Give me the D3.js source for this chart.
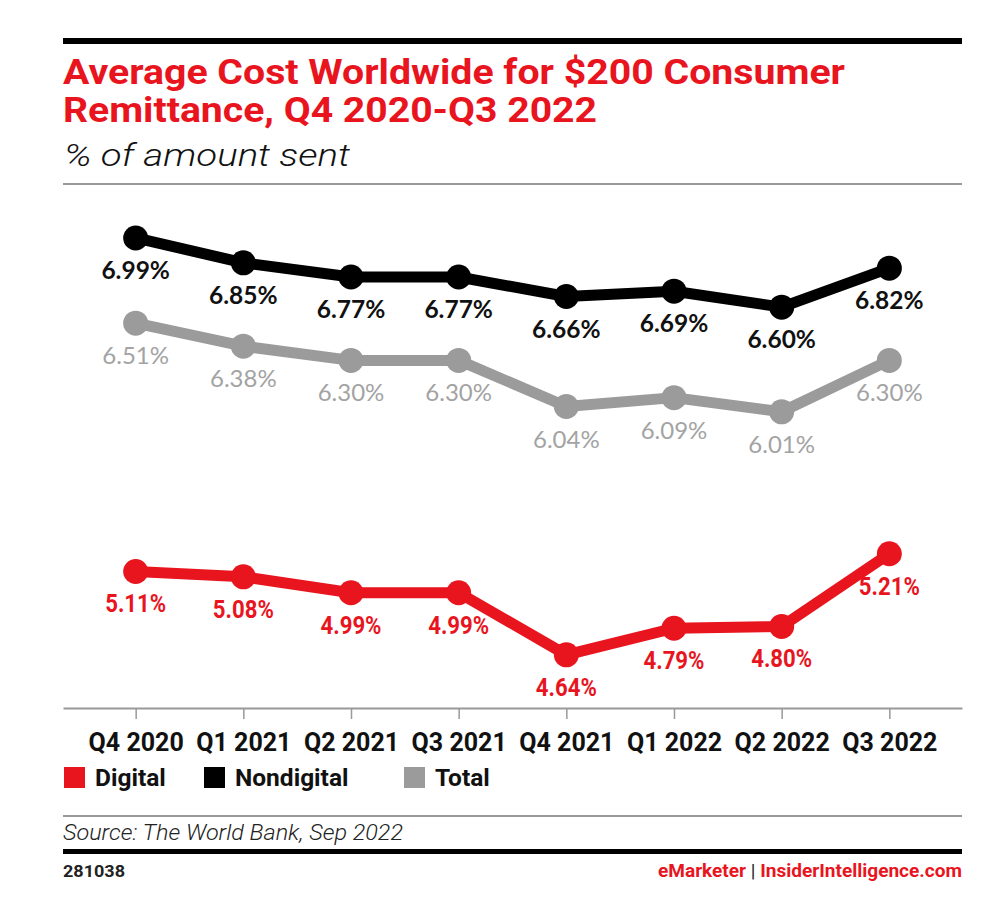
<!DOCTYPE html>
<html>
<head>
<meta charset="utf-8">
<script src="https://cdn.jsdelivr.net/npm/d3@7"></script>
<style>
  html, body { margin: 0; padding: 0; background: #ffffff; }
  svg { display: block; }
</style>
</head>
<body>
<svg id="chart" width="996" height="920"></svg>
<script>
// ---- data ----
const categories = ["Q4 2020", "Q1 2021", "Q2 2021", "Q3 2021", "Q4 2021", "Q1 2022", "Q2 2022", "Q3 2022"];
const digital    = [5.11, 5.08, 4.99, 4.99, 4.64, 4.79, 4.80, 5.21];
const nondigital = [6.99, 6.85, 6.77, 6.77, 6.66, 6.69, 6.60, 6.82];
const total      = [6.51, 6.38, 6.30, 6.30, 6.04, 6.09, 6.01, 6.30];
const seriesNames = ["Digital", "Nondigital", "Total"];
const titleLines = ["Average Cost Worldwide for $200 Consumer", "Remittance, Q4 2020-Q3 2022"];
const subtitle = "% of amount sent";
const source = "Source: The World Bank, Sep 2022";
const chartId = "281038";

// ---- styles ----
const RED = "#e8141e", BLACK = "#000000", GRAY = "#9b9b9b", LABEL_GRAY = "#a3a3a3";
const svg = d3.select("#chart");
const L = 63, R = 962;

function fit(sel, w) { sel.attr("textLength", w).attr("lengthAdjust", "spacingAndGlyphs"); }

// header
svg.append("rect").attr("x", L).attr("y", 38).attr("width", R - L).attr("height", 6).attr("fill", BLACK);
titleLines.forEach((t, i) => {
  const tx = svg.append("text").attr("x", L).attr("y", 84 + i * 38)
    .attr("font-family", "Roboto, sans-serif").attr("font-weight", 700).attr("font-size", 35)
    .attr("fill", RED).text(t);
  fit(tx, i === 0 ? 782 : 534);
});
const sub = svg.append("text").attr("x", L + 1).attr("y", 166)
  .attr("font-family", "Roboto, sans-serif").attr("font-style", "italic").attr("font-weight", 300)
  .attr("font-size", 31).attr("fill", "#111").text(subtitle);
fit(sub, 286);
svg.append("rect").attr("x", L).attr("y", 183).attr("width", R - L).attr("height", 2).attr("fill", "#999");

// scales
const x = d3.scalePoint().domain(categories).range([L, R]).padding(0.675);
const y = d3.scaleLinear().domain([4.5, 7.0]).range([679.7, 236.2]);

// axis
const axisG = svg.append("g").attr("transform", "translate(0,708)")
  .call(d3.axisBottom(x).tickSizeInner(11).tickSizeOuter(0).tickPadding(12));
axisG.select(".domain").attr("stroke", "#999").attr("stroke-width", 2);
axisG.selectAll(".tick line").attr("stroke", "#999").attr("stroke-width", 1.5);
axisG.selectAll(".tick text").attr("font-family", "Roboto, sans-serif").attr("font-weight", 700)
  .attr("font-size", 25).attr("fill", "#111").attr("dy", "0.78em");

// series
const series = [
  { name: "Total", values: total, color: GRAY, label: LABEL_GRAY, font: "Lato, sans-serif", weight: 400, size: 24 },
  { name: "Nondigital", values: nondigital, color: BLACK, label: "#111", font: "Lato, sans-serif", weight: 700, size: 24.5 },
  { name: "Digital", values: digital, color: RED, label: RED, font: "'Roboto', sans-serif", weight: 700, size: 26.5, narrow: 61 }
];
const line = d3.line().x((d, i) => x(categories[i])).y(d => y(d));
series.forEach(s => {
  const g = svg.append("g");
  g.append("path").attr("d", line(s.values)).attr("fill", "none")
    .attr("stroke", s.color).attr("stroke-width", 11).attr("stroke-linejoin", "round");
  g.selectAll("circle").data(s.values).join("circle")
    .attr("cx", (d, i) => x(categories[i])).attr("cy", d => y(d)).attr("r", 12.5).attr("fill", s.color);
  const t = g.selectAll("text").data(s.values).join("text")
    .attr("x", (d, i) => x(categories[i])).attr("y", d => y(d) + 41)
    .attr("text-anchor", "middle").attr("font-family", s.font).attr("font-weight", s.weight)
    .attr("font-size", s.size).attr("fill", s.label).text(d => d.toFixed(2) + "%");
  if (s.narrow) fit(t, s.narrow);
});

// legend
const legendColors = { Digital: RED, Nondigital: BLACK, Total: GRAY };
const legendX = [64, 204, 404];
seriesNames.forEach((n, i) => {
  svg.append("rect").attr("x", legendX[i]).attr("y", 767).attr("width", 21).attr("height", 21).attr("fill", legendColors[n]);
  svg.append("text").attr("x", legendX[i] + 31).attr("y", 786)
    .attr("font-family", "Roboto, sans-serif").attr("font-weight", 700).attr("font-size", 24.5)
    .attr("fill", "#111").text(n);
});

// footer
svg.append("rect").attr("x", L).attr("y", 815).attr("width", R - L).attr("height", 2).attr("fill", "#999");
const src = svg.append("text").attr("x", L).attr("y", 840)
  .attr("font-family", "Roboto, sans-serif").attr("font-style", "italic").attr("font-weight", 300)
  .attr("font-size", 22).attr("fill", "#222").text(source);
fit(src, 340);
svg.append("rect").attr("x", L).attr("y", 849).attr("width", R - L).attr("height", 5).attr("fill", BLACK);
const idT = svg.append("text").attr("x", L).attr("y", 877)
  .attr("font-family", "Roboto, sans-serif").attr("font-weight", 700).attr("font-size", 16)
  .attr("fill", "#222").text(chartId);
fit(idT, 62);
const foot = svg.append("text").attr("x", 658).attr("y", 877)
  .attr("font-family", "Roboto, sans-serif").attr("font-weight", 700).attr("font-size", 18);
foot.append("tspan").attr("fill", RED).text("eMarketer");
foot.append("tspan").attr("fill", "#222").attr("font-weight", 400).text("  |  ");
foot.append("tspan").attr("fill", RED).text("InsiderIntelligence.com");
fit(foot, R - 658);
</script>
</body>
</html>
